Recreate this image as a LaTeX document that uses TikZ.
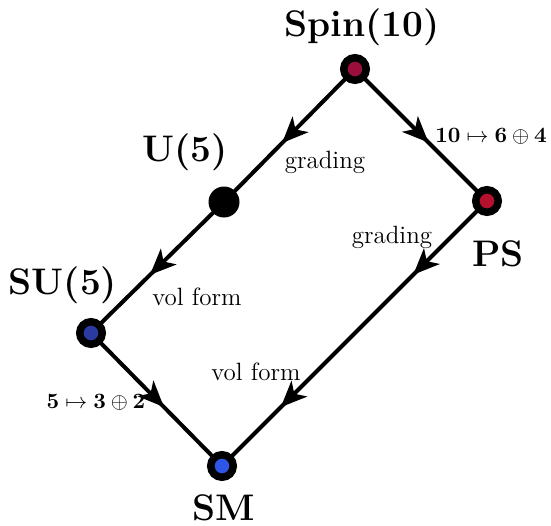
\documentclass[tikz,border=0pt]{standalone}
\usepackage{amsmath}
\usetikzlibrary{arrows.meta,decorations.markings}
\definecolor{spinred}{HTML}{9A0E3C}
\definecolor{psred}{HTML}{B5112E}
\definecolor{sublue}{HTML}{2A3AA0}
\definecolor{smblue}{HTML}{2E55E6}
\begin{document}
\begin{tikzpicture}[x=0.5pt,y=-0.5pt,
  edge/.style={line width=2pt,black},
  midarrow/.style={postaction={decorate},decoration={markings,mark=at position #1 with {\arrow{Stealth[length=13pt,width=11pt,inset=3.5pt]}}}},
  twoarrows/.style={postaction={decorate},decoration={markings,
     mark=at position 0.278 with {\arrow{Stealth[length=13pt,width=11pt,inset=3.5pt]}},
     mark=at position 0.778 with {\arrow{Stealth[length=13pt,width=11pt,inset=3.5pt]}}}},
  ringnode/.style={circle,fill=#1,draw=black,line width=3.75pt,minimum size=11.25pt,inner sep=0pt},
  blacknode/.style={circle,fill=black,minimum size=15.5pt,inner sep=0pt},
  grp/.style={font=\fontsize{18.5}{20}\selectfont\bfseries,inner sep=0pt},
  lbl/.style={font=\fontsize{12.5}{14}\selectfont,inner sep=0pt},
  maplbl/.style={font=\fontsize{11}{13}\selectfont,inner sep=0pt}
]
\useasboundingbox (0,0) rectangle (551,525);
\coordinate (spin) at (355,69);
\coordinate (u5) at (224,202);
\coordinate (su5) at (91,333);
\coordinate (sm) at (222,466);
\coordinate (ps) at (487,201);
\draw[edge,midarrow=0.557] (spin) -- (u5);
\draw[edge,midarrow=0.557] (spin) -- (ps);
\draw[edge,midarrow=0.557] (u5) -- (su5);
\draw[edge,midarrow=0.557] (su5) -- (sm);
\draw[edge,twoarrows] (ps) -- (sm);
\node[ringnode=spinred] (nspin) at (spin) {};
\node[ringnode=psred] (nps) at (ps) {};
\node[ringnode=sublue] (nsu5) at (su5) {};
\node[ringnode=smblue] (nsm) at (sm) {};
\node[blacknode] (nu5) at (u5) {};
\node[grp] (tspin) at (362,27) {Spin(10)};
\node[grp] (tu5) at (185,152) {U(5)};
\node[grp] (tsu5) at (63,285) {SU(5)};
\node[grp] (tsm) at (224,508) {SM};
\node[grp] (tps) at (498,254) {PS};
\node[lbl] (g1) at (325,162) {grading};
\node[lbl] (g2) at (392,237) {grading};
\node[lbl] (v1) at (197,297) {vol form};
\node[lbl] (v2) at (256,372) {vol form};
\node[maplbl] (m1) at (491,136) {$\mathbf{10}\mapsto\mathbf{6}\oplus\mathbf{4}$};
\node[maplbl] (m2) at (96,402) {$\mathbf{5}\mapsto\mathbf{3}\oplus\mathbf{2}$};
\end{tikzpicture}
\end{document}
